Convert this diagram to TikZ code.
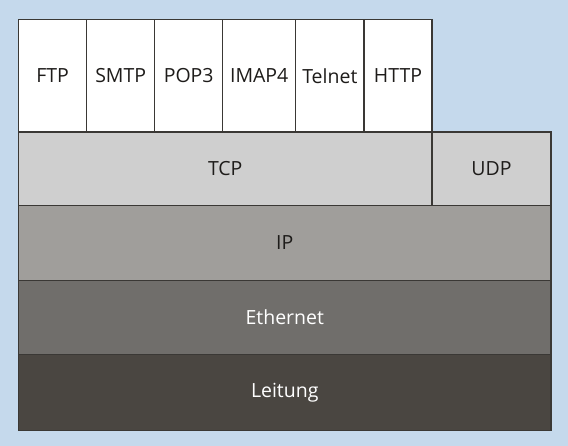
\documentclass[tikz,border=0pt]{standalone}
\usepackage{fontspec}
\setmainfont{Open Sans}
\usetikzlibrary{positioning}
\definecolor{bgblue}{RGB}{197, 217, 236}
\definecolor{tcpgray}{RGB}{207, 207, 207}
\definecolor{ipgray}{RGB}{160, 158, 155}
\definecolor{ethgray}{RGB}{112, 110, 107}
\definecolor{wiregray}{RGB}{74, 70, 65}
\definecolor{edge}{RGB}{58, 56, 53}
\definecolor{ink}{RGB}{30, 28, 26}

\begin{document}
\begin{tikzpicture}[x=1pt, y=-1pt, line width=1.2pt,
    layer/.style={draw=edge, inner sep=0pt, outer sep=0pt, text=ink,
            font=\fontsize{19.5}{23}\selectfont}]

    \fill[bgblue] (0, 0) rectangle (568, 446);
    \useasboundingbox (0, 0) rectangle (568, 446);

    % application layer
    \foreach \name/\xa/\xb in {FTP/18.5/86.7, SMTP/86.7/154.7, POP3/154.7/222.7,
            IMAP4/222.7/295.7, Telnet/295.7/364, HTTP/364/432} {
            \pgfmathsetmacro{\w}{\xb - \xa};
            \node[layer, fill=white, minimum width=\w pt, minimum height=112.3pt]
            (\name) at ({(\xa + \xb) / 2}, 75.8) {\name};
        }

    % transport layer
    \node[layer, fill=tcpgray, minimum width=413.5pt, minimum height=73.3pt]
    (tcp) at (225.25, 168.65) {TCP};
    \node[layer, fill=tcpgray, minimum width=119pt, minimum height=73.3pt]
    (udp) at (491.5, 168.65) {UDP};

    % network, link, physical
    \node[layer, fill=ipgray, minimum width=532.5pt, minimum height=75.2pt]
    (ip) at (284.75, 242.9) {IP};
    \node[layer, fill=ethgray, text=white, minimum width=532.5pt, minimum height=73.8pt]
    (ethernet) at (284.75, 317.4) {Ethernet};
    \node[layer, fill=wiregray, text=white, minimum width=532.5pt, minimum height=76pt]
    (leitung) at (284.75, 392.3) {Leitung};

\end{tikzpicture}
\end{document}
